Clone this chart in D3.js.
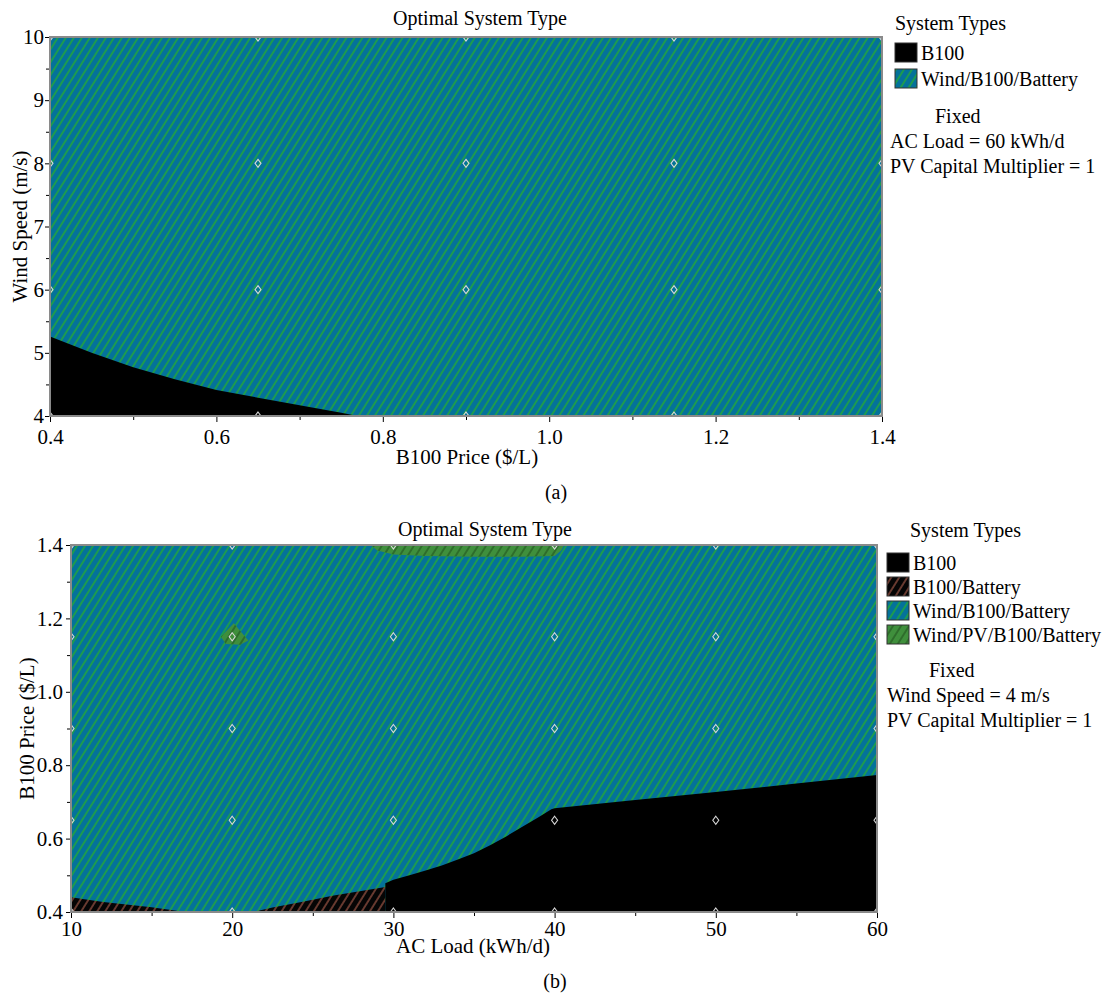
<!DOCTYPE html>
<html>
<head>
<meta charset="utf-8">
<script src="https://cdn.jsdelivr.net/npm/d3@7"></script>
<style>
  body { margin: 0; background: #fff; }
  svg text { font-family: "Liberation Serif", "Times New Roman", "DejaVu Serif", serif !important; fill: #000; }
</style>
</head>
<body>
<svg id="chart" width="1113" height="993"></svg>
<script>
// ---- panel (a): wind speed vs B100 price ----
var priceTicksA = [0.4, 0.6, 0.8, 1.0, 1.2, 1.4];
var windTicksA = [4, 5, 6, 7, 8, 9, 10];
var b100EdgePriceA = [0.4, 0.45, 0.5, 0.55, 0.6, 0.65, 0.7, 0.75, 0.77];
var b100EdgeWindA  = [5.26, 5.0, 4.77, 4.58, 4.41, 4.29, 4.17, 4.05, 4.0];
var samplePriceA = [0.4, 0.65, 0.9, 1.15, 1.4];
var sampleWindA = [4, 6, 8, 10];
var typesA = ["B100", "Wind/B100/Battery"];
var fixedA = ["AC Load = 60 kWh/d", "PV Capital Multiplier = 1"];

// ---- panel (b): B100 price vs AC load ----
var loadTicksB = [10, 20, 30, 40, 50, 60];
var priceTicksB = [0.4, 0.6, 0.8, 1.0, 1.2, 1.4];
var b100EdgeLoadB  = [29.5, 30, 31, 32, 33, 34, 35, 36, 37, 38, 39, 39.8, 40, 45, 50, 55, 60];
var b100EdgePriceB = [0.478, 0.488, 0.5, 0.513, 0.527, 0.543, 0.56, 0.582, 0.606, 0.632, 0.658, 0.68, 0.683, 0.705, 0.727, 0.75, 0.773];
var battLeftLoadB  = [10, 12, 15, 17.1];
var battLeftPriceB = [0.44, 0.427, 0.413, 0.4];
var battRightLoadB  = [21.3, 22.5, 24.3, 26.3, 28, 29.5];
var battRightPriceB = [0.4, 0.412, 0.427, 0.445, 0.457, 0.468];
var pvTopLoadB  = [28.6, 29, 30, 32, 35, 38, 40, 40.4, 40.6];
var pvTopPriceB = [1.4, 1.385, 1.374, 1.37, 1.368, 1.368, 1.37, 1.385, 1.4];
var pvSpotLoadB  = [19.3, 20.1, 21.0, 20.5, 19.6];
var pvSpotPriceB = [1.15, 1.187, 1.14, 1.128, 1.13];
var sampleLoadB = [10, 20, 30, 40, 50, 60];
var samplePriceB = [0.4, 0.65, 0.9, 1.15, 1.4];
var typesB = ["B100", "B100/Battery", "Wind/B100/Battery", "Wind/PV/B100/Battery"];
var fixedB = ["Wind Speed = 4 m/s", "PV Capital Multiplier = 1"];

var svg = d3.select("#chart");
var defs = svg.append("defs");

// hatch patterns
var hatches = {
  "B100/Battery":         { bg: "#050505", fg: "#7d4538" },
  "Wind/B100/Battery":    { bg: "#04729a", fg: "#22a53e" },
  "Wind/PV/B100/Battery": { bg: "#3f8f3c", fg: "#2a6628" }
};
var hatchId = {};
Object.keys(hatches).forEach(function(name, i) {
  var id = "hatch" + i;
  hatchId[name] = id;
  var p = defs.append("pattern")
    .attr("id", id)
    .attr("patternUnits", "userSpaceOnUse")
    .attr("width", 6.8).attr("height", 10)
    .attr("patternTransform", "rotate(32)");
  p.append("rect").attr("width", 6.8).attr("height", 10).attr("fill", hatches[name].bg);
  p.append("line").attr("x1", 1).attr("x2", 1).attr("y1", 0).attr("y2", 10)
    .attr("stroke", hatches[name].fg).attr("stroke-width", 1.6);
});
function fillFor(name) {
  if (name == "B100") return "#000";
  return "url(#" + hatchId[name] + ")";
}

function zip(xs, ys) {
  return xs.map(function(x, i) { return [x, ys[i]]; });
}

var drawPanel = function(cfg) {
  var x = d3.scaleLinear().domain(cfg.xDomain).range([cfg.left, cfg.right]);
  var y = d3.scaleLinear().domain(cfg.yDomain).range([cfg.bottom, cfg.top]);
  var g = svg.append("g");

  defs.append("clipPath").attr("id", cfg.id + "-clip")
    .append("rect")
    .attr("x", cfg.left).attr("y", cfg.top)
    .attr("width", cfg.right - cfg.left).attr("height", cfg.bottom - cfg.top);

  var plot = g.append("g").attr("clip-path", "url(#" + cfg.id + "-clip)");

  // base region fills the whole plot
  plot.append("rect")
    .attr("x", cfg.left).attr("y", cfg.top)
    .attr("width", cfg.right - cfg.left).attr("height", cfg.bottom - cfg.top)
    .attr("fill", fillFor(cfg.baseType));

  var areaLow = d3.area()
    .x(function(d) { return x(d[0]); })
    .y0(function() { return y(cfg.yDomain[0]); })
    .y1(function(d) { return y(d[1]); });
  var areaHigh = d3.area()
    .x(function(d) { return x(d[0]); })
    .y0(function() { return y(cfg.yDomain[1]); })
    .y1(function(d) { return y(d[1]); });
  var polygon = d3.line()
    .x(function(d) { return x(d[0]); })
    .y(function(d) { return y(d[1]); })
    .curve(d3.curveLinearClosed);

  cfg.regions.forEach(function(r) {
    var gen = r.kind == "low" ? areaLow : (r.kind == "high" ? areaHigh : polygon);
    plot.append("path")
      .attr("d", gen(r.points))
      .attr("fill", fillFor(r.type));
  });

  // sample point diamonds
  var pts = [];
  cfg.sampleX.forEach(function(sx) {
    cfg.sampleY.forEach(function(sy) { pts.push([sx, sy]); });
  });
  plot.selectAll(".dia").data(pts).enter().append("path")
    .attr("d", "M0,-4L3,0L0,4L-3,0Z")
    .attr("transform", function(d) { return "translate(" + x(d[0]) + "," + y(d[1]) + ")"; })
    .attr("fill", "none")
    .attr("stroke", "#d8d8d8")
    .attr("stroke-width", 1.1);

  // frame
  g.append("rect")
    .attr("x", cfg.left).attr("y", cfg.top)
    .attr("width", cfg.right - cfg.left).attr("height", cfg.bottom - cfg.top)
    .attr("fill", "none").attr("stroke", "#8a8a8a").attr("stroke-width", 2);

  // axes
  var xAxis = d3.axisBottom(x).tickValues(cfg.xTicks).tickFormat(d3.format(cfg.xFormat))
    .tickSize(5).tickPadding(cfg.xPad);
  var xMinor = d3.axisBottom(x).tickValues(cfg.xMinor).tickFormat("").tickSize(3);
  var yAxis = d3.axisLeft(y).tickValues(cfg.yTicks).tickFormat(d3.format(cfg.yFormat))
    .tickSize(4).tickPadding(cfg.yPad);
  var yMinor = d3.axisLeft(y).tickValues(cfg.yMinor).tickFormat("").tickSize(3);

  [[xAxis, "bottom"], [xMinor, "bottom"], [yAxis, "left"], [yMinor, "left"]].forEach(function(a) {
    var ax = g.append("g")
      .attr("transform", a[1] == "bottom" ? "translate(0," + (cfg.bottom + 1) + ")" : "translate(" + (cfg.left - 1) + ",0)")
      .call(a[0]);
    ax.attr("font-family", null).attr("font-size", null);
    ax.select(".domain").remove();
    ax.selectAll("line").attr("stroke", "#000");
    ax.selectAll("text").style("font-size", "21px").attr("fill", "#000");
  });

  // titles
  g.append("text").attr("x", (cfg.left + cfg.right) / 2 + cfg.titleDx).attr("y", cfg.titleY)
    .attr("text-anchor", "middle").style("font-size", "20px").text("Optimal System Type");
  g.append("text").attr("x", cfg.xLabelX).attr("y", cfg.xLabelY)
    .attr("text-anchor", "middle").style("font-size", "21px").text(cfg.xLabel);
  g.append("text")
    .attr("transform", "translate(" + cfg.yLabelX + "," + (cfg.top + cfg.bottom) / 2 + ") rotate(-90)")
    .attr("text-anchor", "middle").style("font-size", "21px").text(cfg.yLabel);
  g.append("text").attr("x", cfg.tagX).attr("y", cfg.tagY)
    .attr("text-anchor", "middle").style("font-size", "20px").text(cfg.tag);

  // legend
  var lg = g.append("g");
  lg.append("text").attr("x", cfg.legTitleX).attr("y", cfg.legY)
    .style("font-size", "20px").text("System Types");
  cfg.types.forEach(function(t, i) {
    var yy = cfg.legY + cfg.legGap + i * cfg.legStep;
    lg.append("rect").attr("x", cfg.legX).attr("y", yy)
      .attr("width", 22).attr("height", 19)
      .attr("fill", fillFor(t)).attr("stroke", "#333").attr("stroke-width", 1);
    lg.append("text").attr("x", cfg.legX + 26).attr("y", yy + 17)
      .style("font-size", "20px").text(t);
  });
  var fy = cfg.legY + cfg.legGap + cfg.types.length * cfg.legStep + 28;
  lg.append("text").attr("x", cfg.legX + cfg.fixedDx).attr("y", fy)
    .style("font-size", "20px").text("Fixed");
  cfg.fixed.forEach(function(f, i) {
    lg.append("text").attr("x", cfg.legX + cfg.fixedLineDx).attr("y", fy + 25 + i * 25)
      .style("font-size", "20px").text(f);
  });
};

drawPanel({
  id: "pa",
  left: 50, right: 882, top: 37, bottom: 416,
  xDomain: [0.4, 1.4], yDomain: [4, 10],
  xTicks: priceTicksA, yTicks: windTicksA,
  xMinor: [0.5, 0.7, 0.9, 1.1, 1.3], yMinor: [4.5, 5.5, 6.5, 7.5, 8.5, 9.5],
  xFormat: ".1f", yFormat: "d", xPad: 7, yPad: 1,
  baseType: "Wind/B100/Battery",
  regions: [{ kind: "low", type: "B100", points: zip(b100EdgePriceA, b100EdgeWindA) }],
  sampleX: samplePriceA, sampleY: sampleWindA,
  titleY: 25, titleDx: 14,
  xLabel: "B100 Price ($/L)", xLabelX: 467, xLabelY: 464,
  yLabel: "Wind Speed (m/s)", yLabelX: 27,
  tag: "(a)", tagX: 556, tagY: 499,
  types: typesA, fixed: fixedA,
  legX: 895, legTitleX: 895, legY: 30, legGap: 13, legStep: 26,
  fixedDx: 40, fixedLineDx: -5
});

drawPanel({
  id: "pb",
  left: 71, right: 877, top: 545, bottom: 912,
  xDomain: [10, 60], yDomain: [0.4, 1.4],
  xTicks: loadTicksB, yTicks: priceTicksB,
  xMinor: [15, 25, 35, 45, 55], yMinor: [0.5, 0.7, 0.9, 1.1, 1.3],
  xFormat: "d", yFormat: ".1f", xPad: 3, yPad: 3,
  baseType: "Wind/B100/Battery",
  regions: [
    { kind: "low", type: "B100/Battery", points: zip(battLeftLoadB, battLeftPriceB) },
    { kind: "low", type: "B100/Battery", points: zip(battRightLoadB, battRightPriceB) },
    { kind: "low", type: "B100", points: zip(b100EdgeLoadB, b100EdgePriceB) },
    { kind: "high", type: "Wind/PV/B100/Battery", points: zip(pvTopLoadB, pvTopPriceB) },
    { kind: "poly", type: "Wind/PV/B100/Battery", points: zip(pvSpotLoadB, pvSpotPriceB) }
  ],
  sampleX: sampleLoadB, sampleY: samplePriceB,
  titleY: 536, titleDx: 11,
  xLabel: "AC Load (kWh/d)", xLabelX: 473, xLabelY: 953,
  yLabel: "B100 Price ($/L)", yLabelX: 34,
  tag: "(b)", tagX: 555, tagY: 988,
  types: typesB, fixed: fixedB,
  legX: 887, legTitleX: 910, legY: 537, legGap: 16, legStep: 24,
  fixedDx: 42, fixedLineDx: 0
});
</script>
</body>
</html>
